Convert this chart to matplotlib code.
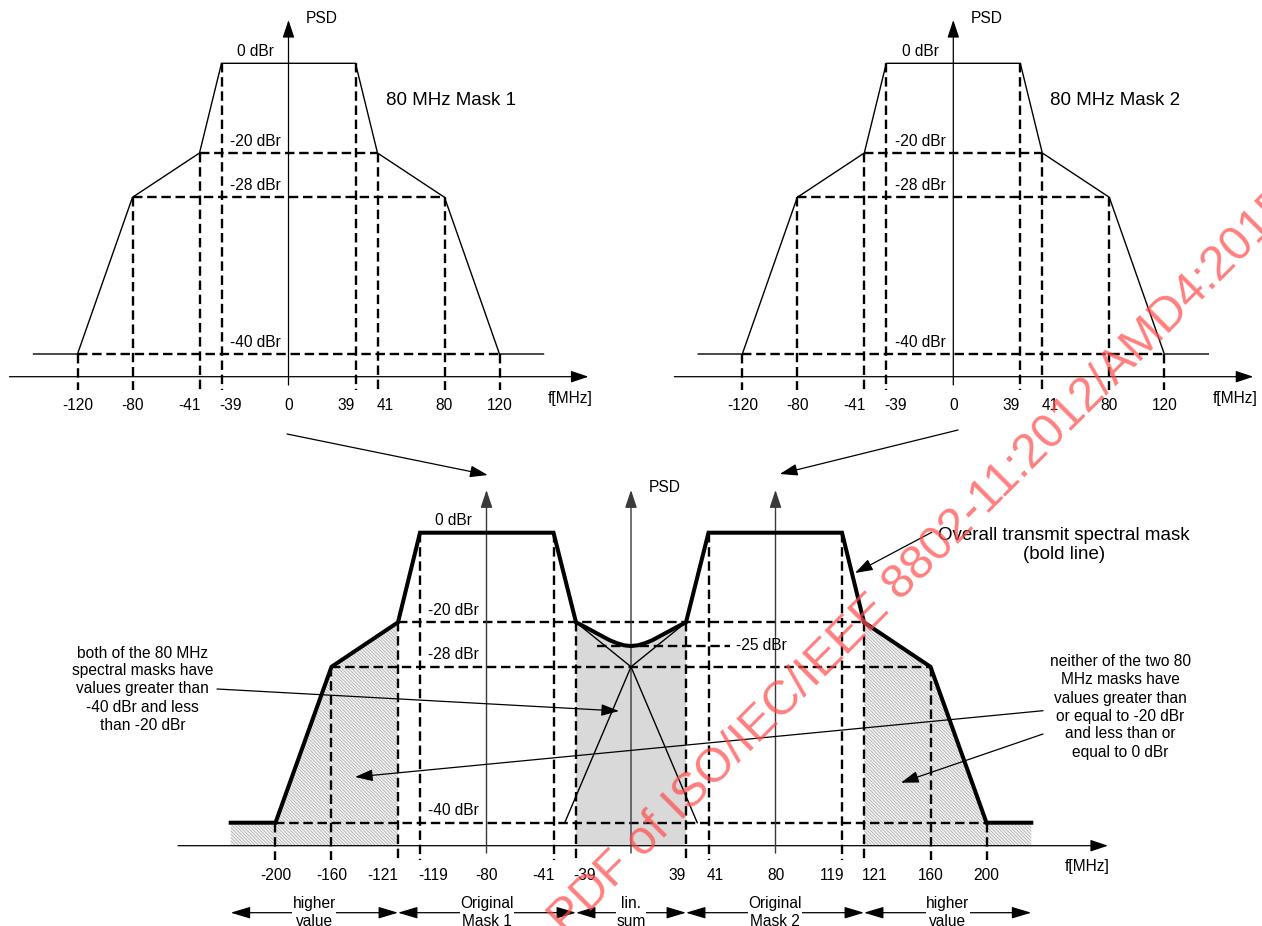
import numpy as np
import matplotlib
matplotlib.use('Agg')
import matplotlib.pyplot as plt

plt.rcParams['font.family'] = ['Liberation Sans', 'DejaVu Sans']
plt.rcParams['hatch.linewidth'] = 0.5

# ---------------- data ----------------
MASK_F = [-120, -80, -41, -39, 39, 41, 80, 120]          # MHz, 80 MHz mask corners
MASK_DBR = [-40, -28, -20, 0, 0, -20, -28, -40]          # dBr
MASK_EXT = 32                                            # MHz drawn beyond the -40 dBr corner
LEVELS = [0, -20, -28, -40]
LEVEL_LABELS = ['0 dBr', '-20 dBr', '-28 dBr', '-40 dBr']
TOP_TICKS = [-120, -80, -41, -39, 0, 39, 41, 80, 120]
TOP_TICK_LABELS = ['-120', '-80', '-41', '-39', '0', '39', '41', '80', '120']
MASK_TITLES = ['80 MHz Mask 1', '80 MHz Mask 2']
CENTERS = [-80, 80]                                      # centre of mask 1 / mask 2 in the combined plot
BOT_TICKS = [-200, -160, -121, -119, -80, -41, -39, 39, 41, 80, 119, 121, 160, 200]
BOT_TICK_LABELS = ['-200', '-160', '-121', '-119', '-80', '-41', '-39',
                   '39', '41', '80', '119', '121', '160', '200']
LINSUM_F = [-39, -35, -30, -25, -20, -15, -10, -5, 0, 5, 10, 15, 20, 25, 30, 35, 39]
LINSUM_DBR = [-20.0, -20.6, -21.4, -22.2, -23.0, -23.8, -24.4, -24.85, -25.0,
              -24.85, -24.4, -23.8, -23.0, -22.2, -21.4, -20.6, -20.0]
LINSUM_LEVEL = -25
LINSUM_LABEL = '-25 dBr'
REGION_EDGES = [-232, -121, -39, 39, 121, 232]
REGION_LABELS = ['higher\nvalue', 'Original\nMask 1', 'lin.\nsum', 'Original\nMask 2', 'higher\nvalue']

# ---------------- layout (schematic, non-linear axes) ----------------
W, H = 1262, 926
TOP_XPX = [-211, -156, -89, -67, 0, 67, 89, 156, 211]
TOP_DKNOT = [-40, -28, -20, 0]
TOP_YPX = [354, 197.3, 153, 63.3]
TOP_CX = [288.5, 953.3]
TOP_AXIS_Y = 376.7
BOT_FKNOT = [-200, -160, -121, -119, -80, -41, -39, 0, 39, 41, 80, 119, 121, 160, 200]
BOT_XPX = [-355.5, -299.5, -233, -211, -144.5, -77.5, -55, 0, 55, 77.5, 144.5, 211, 233, 299.5, 355.5]
BOT_DKNOT = [-40, -28, -25, -20, 0]
BOT_YPX = [822.7, 666.8, 646, 622.3, 532.7]
BOT_CX = 631
BOT_AXIS_Y = 845.7
TOP_NUDGE = {-41: -10, -39: 9, 39: -9, 41: 8}
BOT_NUDGE = {-121: -15, -119: 13, -41: -10.5, -39: 9, 39: -9, 41: 6.5, 119: -10, 121: 11}
PT = 0.72  # points per pixel at 100 dpi

DASH = dict(color='black', lw=1.7, ls=(0, (4, 2)))
THIN = dict(color='black', lw=1.0)
FS = 11.2
FS_BIG = 13.5
HATCH = '\\' * 10


def pw(xk, yk):
    xk = np.asarray(xk, float)
    yk = np.asarray(yk, float)
    s0 = (yk[1] - yk[0]) / (xk[1] - xk[0])
    s1 = (yk[-1] - yk[-2]) / (xk[-1] - xk[-2])

    def f(v):
        if np.ma.isMaskedArray(v):
            v = np.ma.filled(v.astype(float), np.nan)
        a = np.asarray(v, float)
        out = np.interp(a, xk, yk)
        out = np.where(a < xk[0], yk[0] + (a - xk[0]) * s0, out)
        out = np.where(a > xk[-1], yk[-1] + (a - xk[-1]) * s1, out)
        return out
    return f


fig = plt.figure(figsize=(W / 100, H / 100), dpi=100)


def make_axes(fk, pk, cx, dk, pyk):
    ax = fig.add_axes([0, 0, 1, 1])
    px = np.asarray(pk, float) + cx
    py = H - np.asarray(pyk, float)
    fx, ix = pw(fk, px), pw(px, fk)
    fy, iy = pw(dk, py), pw(py, dk)
    ax.set_xscale('function', functions=(fx, ix))
    ax.set_yscale('function', functions=(fy, iy))
    ax.set_xlim(float(ix(0)), float(ix(W)))
    ax.set_ylim(float(iy(0)), float(iy(H)))
    ax.axis('off')
    ax.patch.set_visible(False)
    return ax, ix, iy


def fp(x, y):
    return (x, H - y)


def arrow(ax, start, end, coords='figure pixels', **kw):
    props = dict(arrowstyle='-|>,head_length=0.9,head_width=0.3', color='black',
                 lw=kw.pop('lw', 0.9), shrinkA=0, shrinkB=0, mutation_scale=12)
    props.update(kw)
    ax.annotate('', xy=end, xytext=start, xycoords=coords, textcoords=coords,
                arrowprops=props)


def mask_level(f):
    return np.interp(f, MASK_F, MASK_DBR, left=-40, right=-40)


# ---------------- two single 80 MHz masks ----------------
for k, cx in enumerate(TOP_CX):
    ax, ix, iy = make_axes(TOP_TICKS, TOP_XPX, cx, TOP_DKNOT, TOP_YPX)
    axis_d = float(iy(H - TOP_AXIS_Y))
    below_d = float(iy(H - 390))
    arrow(ax, fp(cx - 279, TOP_AXIS_Y), fp(cx + 300, TOP_AXIS_Y))
    arrow(ax, fp(cx, 385), fp(cx, 20))
    ax.text(*fp(cx + 33, 18.3), 'PSD', transform=None, fontsize=FS, ha='center', va='center')
    ax.text(*fp(cx + 282, 398), 'f[MHz]', transform=None, fontsize=FS, ha='center', va='center')
    mf = [MASK_F[0] - MASK_EXT] + MASK_F + [MASK_F[-1] + MASK_EXT]
    md = [MASK_DBR[0]] + MASK_DBR + [MASK_DBR[-1]]
    ax.plot(mf, md, **THIN, zorder=3)
    for L in LEVELS[1:]:
        edge = max(abs(f) for f, d in zip(MASK_F, MASK_DBR) if d == L)
        ax.plot([-edge, edge], [L, L], **DASH, zorder=2)
    for f in TOP_TICKS:
        if f == 0:
            continue
        ax.plot([f, f], [mask_level(f), below_d], **DASH, zorder=2)
    for L, lab in zip(LEVELS, LEVEL_LABELS):
        ax.annotate(lab, xy=(-19.3, L), xytext=(0, 11.6 * PT), textcoords='offset points',
                    fontsize=FS, ha='center', va='center')
    for f, lab in zip(TOP_TICKS, TOP_TICK_LABELS):
        ax.annotate(lab, xy=(f, axis_d), xytext=(TOP_NUDGE.get(f, 0) * PT, -28.3 * PT),
                    textcoords='offset points', fontsize=FS, ha='center', va='center')
    ax.text(45.7, -8.2, MASK_TITLES[k], fontsize=FS_BIG, ha='left', va='center')

# ---------------- combined mask ----------------
ax, ix, iy = make_axes(BOT_FKNOT, BOT_XPX, BOT_CX, BOT_DKNOT, BOT_YPX)
axis_d = float(iy(H - BOT_AXIS_Y))
below_d = float(iy(H - 860))
c1, c2 = CENTERS

arrow(ax, fp(178, BOT_AXIS_Y), fp(1108, BOT_AXIS_Y))
for c in CENTERS + [0]:
    x = float(ax.transData.transform((c, 0))[0])
    arrow(ax, fp(x, 853), fp(x, 490), color='#3a3a3a', lw=1.0)
ax.text(*fp(665, 487.3), 'PSD', transform=None, fontsize=FS, ha='center', va='center')
ax.text(*fp(1087, 866), 'f[MHz]', transform=None, fontsize=FS, ha='center', va='center')

for c in CENTERS:
    ax.plot(np.asarray(MASK_F) + c, MASK_DBR, **THIN, zorder=3)

left = [(f + c1, d) for f, d in zip(MASK_F, MASK_DBR) if f + c1 < LINSUM_F[0]]
right = [(f + c2, d) for f, d in zip(MASK_F, MASK_DBR) if f + c2 > LINSUM_F[-1]]
bold_f = [REGION_EDGES[0]] + [p[0] for p in left] + LINSUM_F + [p[0] for p in right] + [REGION_EDGES[-1]]
bold_d = [left[0][1]] + [p[1] for p in left] + LINSUM_DBR + [p[1] for p in right] + [right[-1][1]]
ax.plot(bold_f, bold_d, color='black', lw=2.9, solid_joinstyle='miter', zorder=5)

bf = np.asarray(bold_f)
bd = np.asarray(bold_d)
for sel in (bf <= REGION_EDGES[1], bf >= REGION_EDGES[4]):
    ax.fill_between(bf[sel], bd[sel], axis_d, facecolor='#f2f2f2', edgecolor='#a8a8a8',
                    hatch=HATCH, linewidth=0, zorder=1)
ax.fill_between(LINSUM_F, LINSUM_DBR, axis_d, facecolor='#d9d9d9', linewidth=0, zorder=1)


def overall_level(f):
    return max(mask_level(f - c1), mask_level(f - c2))


for L in LEVELS[1:]:
    edge = max(abs(f) for f, d in zip(MASK_F, MASK_DBR) if d == L) + c2
    ax.plot([-edge, edge], [L, L], **DASH, zorder=2)
for f in BOT_TICKS:
    if f in CENTERS:
        continue
    ax.plot([f, f], [overall_level(f), below_d], **DASH, zorder=2)
ax.plot([-24, 53.5], [LINSUM_LEVEL, LINSUM_LEVEL], **DASH, zorder=2)
ax.text(57, LINSUM_LEVEL, LINSUM_LABEL, fontsize=FS, ha='left', va='center')

for L, lab in zip(LEVELS, LEVEL_LABELS):
    ax.annotate(lab, xy=(c1 - 19.6, L), xytext=(0, 12 * PT), textcoords='offset points',
                fontsize=FS, ha='center', va='center')
for f, lab in zip(BOT_TICKS, BOT_TICK_LABELS):
    ax.annotate(lab, xy=(f, axis_d), xytext=(BOT_NUDGE.get(f, 0) * PT, -29.3 * PT),
                textcoords='offset points', fontsize=FS, ha='center', va='center')

ROW_Y = H - 912.7
for a, b, lab in zip(REGION_EDGES[:-1], REGION_EDGES[1:], REGION_LABELS):
    ax.annotate('', xy=(b, ROW_Y), xytext=(a, ROW_Y),
                xycoords=('data', 'figure pixels'), textcoords=('data', 'figure pixels'),
                arrowprops=dict(arrowstyle='<|-|>,head_length=1.0,head_width=0.3',
                                color='black', lw=0.9, shrinkA=0, shrinkB=0,
                                mutation_scale=12))
    xa = ax.transData.transform((a, 0))[0]
    xb = ax.transData.transform((b, 0))[0]
    ax.text((xa + xb) / 2, H - 912.2, lab, transform=None, fontsize=FS, ha='center',
            va='center', linespacing=1.25, zorder=6,
            bbox=dict(facecolor='white', edgecolor='none', pad=0.3))

# ---------------- annotations ----------------
arrow(ax, fp(287, 434), fp(487.7, 475))
arrow(ax, fp(958, 430), fp(779.8, 474))

ax.text(*fp(1064, 545), 'Overall transmit spectral mask\n(bold line)', transform=None,
        fontsize=FS_BIG, ha='center', va='center', multialignment='center', linespacing=1.2)
arrow(ax, fp(931.7, 532.3), fp(855, 573))

ax.text(*fp(142.7, 689), 'both of the 80 MHz\nspectral masks have\nvalues greater than\n'
        '-40 dBr and less\nthan -20 dBr', transform=None, fontsize=FS, ha='center',
        va='center', multialignment='center', linespacing=1.25)
arrow(ax, fp(217, 689), fp(619, 711))

ax.text(*fp(1120, 707), 'neither of the two 80\nMHz masks have\nvalues greater than\n'
        'or equal to -20 dBr\nand less than or\nequal to 0 dBr', transform=None,
        fontsize=FS, ha='center', va='center', multialignment='center', linespacing=1.25)
arrow(ax, fp(1043, 710.7), fp(355, 777))
arrow(ax, fp(1043, 734), fp(901, 782.7))

# watermark
fig.text(566 / W, -10 / H, 'PDF of ISO/IEC/IEEE 8802-11:2012/AMD4:2015', fontsize=34.5,
         color='#ff4d4d', alpha=0.72, rotation=45, rotation_mode='anchor',
         ha='left', va='baseline', zorder=10)

fig.savefig('out.png', dpi=100)
